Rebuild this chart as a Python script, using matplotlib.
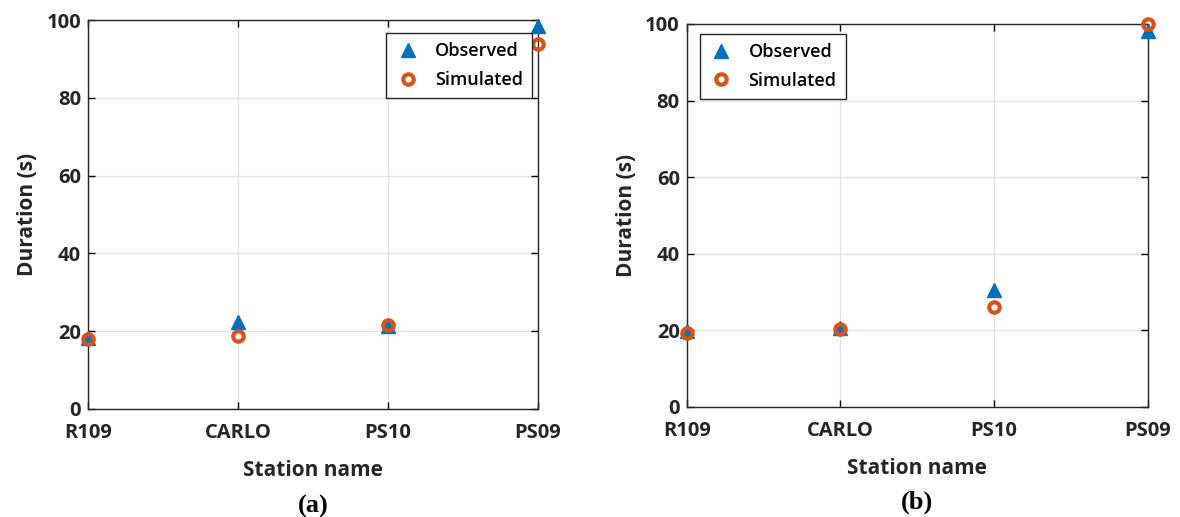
import matplotlib.pyplot as plt

stations = ['R109', 'CARLO', 'PS10', 'PS09']
obs_a = [18.2, 22.4, 21.3, 98.5]
sim_a = [18.0, 18.7, 21.5, 93.9]
obs_b = [19.8, 20.5, 30.5, 98.2]
sim_b = [19.4, 20.4, 26.0, 100.0]

blue = '#0072BD'
orange = '#D95319'

plt.rcParams['font.family'] = ['Open Sans', 'DejaVu Sans']

fig = plt.figure(figsize=(11.8, 5.17), dpi=100)

def draw(ax, obs, sim, anchor, loc, tag):
    x = range(len(stations))
    ax.plot(x, obs, '^', color=blue, markersize=10, label='Observed', clip_on=False, zorder=3)
    ax.plot(x, sim, 'o', color=orange, markerfacecolor='none', markeredgewidth=3,
            markersize=7.5, label='Simulated', clip_on=False, zorder=4)
    ax.set_xlim(0, 3)
    ax.set_ylim(0, 100)
    ax.set_xticks(list(x))
    ax.set_xticklabels(stations)
    ax.set_yticks([0, 20, 40, 60, 80, 100])
    ax.grid(True, color='#e3e3e3', linewidth=1)
    ax.set_axisbelow(True)
    ax.tick_params(direction='in', top=True, right=True, length=5, width=1, labelsize=14.5)
    ax.tick_params(axis='x', pad=10)
    ax.tick_params(axis='y', pad=5)
    for lab in ax.get_xticklabels() + ax.get_yticklabels():
        lab.set_fontweight('bold')
        lab.set_color('#262626')
    for s in ax.spines.values():
        s.set_color('#262626')
        s.set_linewidth(1)
    ax.set_xlabel('Station name', fontsize=15, fontweight='bold', color='#262626', labelpad=12)
    ax.set_ylabel('Duration (s)', fontsize=15, fontweight='bold', color='#262626', labelpad=6)
    leg = ax.legend(loc=loc, bbox_to_anchor=anchor, fancybox=False, edgecolor='#262626',
                    framealpha=1, prop={'size': 13, 'weight': 'semibold'}, borderpad=0.5,
                    handlelength=1.4, handletextpad=0.8, labelspacing=0.6, borderaxespad=0)
    leg.get_frame().set_linewidth(1)
    ax.text(0.5, -0.25, tag, transform=ax.transAxes, ha='center', va='center',
            fontsize=19, fontweight='bold', family='Liberation Serif')

ax1 = fig.add_axes([0.0746, 0.2089, 0.3814, 0.7524])
draw(ax1, obs_a, sim_a, (0.9867, 0.9666), 'upper right', '(a)')
ax2 = fig.add_axes([0.582, 0.2128, 0.3907, 0.7408])
draw(ax2, obs_b, sim_b, (0.0282, 0.974), 'upper left', '(b)')

fig.savefig('out.png', dpi=100)
